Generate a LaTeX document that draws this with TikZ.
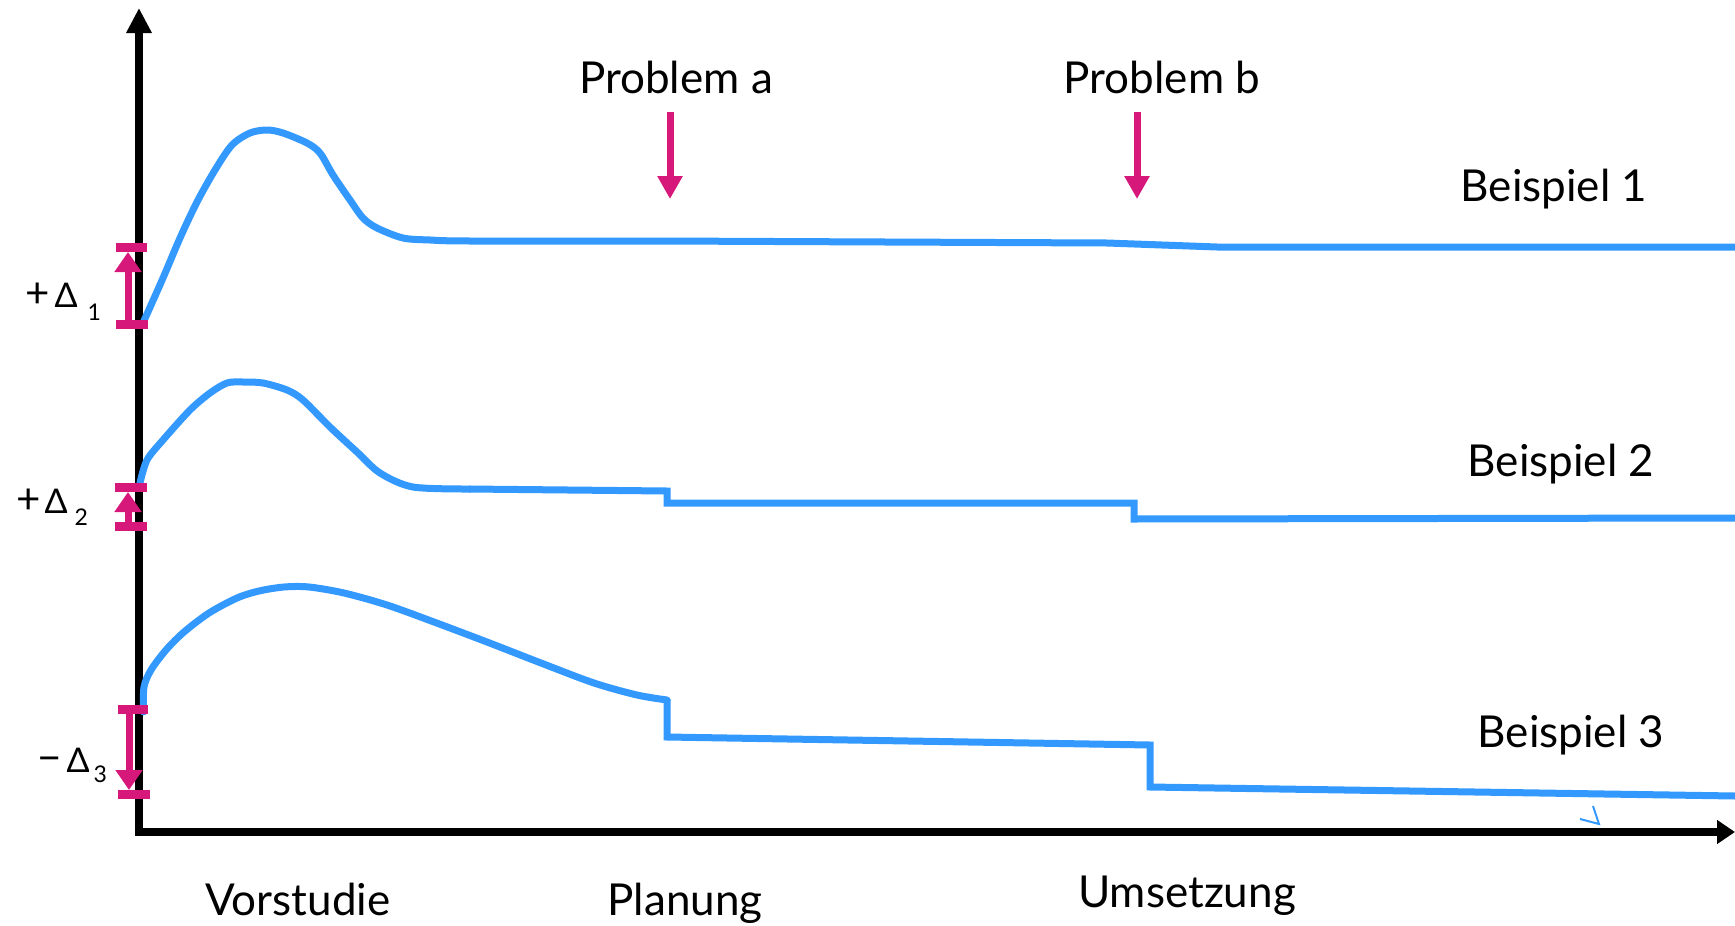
\documentclass[tikz,border=0pt]{standalone}
\usepackage{fontspec}
\setmainfont{Lato}
\usetikzlibrary{arrows.meta}
\definecolor{curveblue}{RGB}{51,153,255}
\definecolor{mag}{RGB}{214,24,122}
\tikzset{
  axisline/.style={line width=8pt, black},
  curve/.style={line width=7pt, curveblue, line join=round, line cap=round},
  curvestep/.style={line width=7pt, curveblue, line join=miter},
  probarrow/.style={line width=7pt, mag, -{Triangle[length=23pt,width=24pt]}},
  deltabar/.style={line width=9pt, mag},
  deltaarrow/.style={line width=7pt, mag, -{Triangle[length=20pt,width=26pt]}},
  biglabel/.style={font=\fontsize{44}{50}\selectfont, anchor=base, inner sep=0pt},
  dlabel/.style={font=\fontsize{34}{36}\selectfont, anchor=base west, inner sep=0pt},
}
\newcommand{\subsc}[2]{\raisebox{#1}{\fontsize{23}{25}\selectfont #2}}
\newcommand{\bigsign}[1]{{\fontsize{42}{44}\selectfont #1}}
\begin{document}
\begin{tikzpicture}[x=1pt,y=-1pt]
\useasboundingbox (0,0) rectangle (1735,926);
% axes
\coordinate (ybot) at (139,836);
\coordinate (ytop) at (139,8);
\coordinate (xleft) at (135,832);
\coordinate (xright) at (1735,832);
\draw[axisline, -{Triangle[length=25pt,width=24pt]}] (ybot) -- (ytop);
\draw[axisline, -{Triangle[length=18pt,width=23pt]}] (xleft) -- (xright);

% curve 1
\draw[curve] plot[smooth, tension=0.5] coordinates {(143,323) (163,278) (180,238) (197,202) (215,170) (232,145) (250,133) (267,130) (283,133) (307,143) (320,153) (333,175) (350,200) (363,218) (377,228) (403,238) (430,240) (470,241) (664,241)}
  -- (1107,243) -- (1217,247) -- (1735,247);

% curve 2
\draw[curve] plot[smooth, tension=0.5] coordinates {(140,483) (147,460) (163,440) (190,410) (210,393) (227,383) (243,382) (263,383) (287,390) (303,400) (330,427) (357,452) (380,473) (413,487) (470,489)};
\draw[curvestep] (469,489) -- (667,491) -- (667,503) -- (1134,503) -- (1134,519) -- (1735,518);

% curve 3
\draw[curve] plot[smooth, tension=0.5] coordinates {(143.5,712) (144,687) (151,670) (166,650) (184,632) (209,613) (237,598) (259,591) (284,587) (309,587) (344,593) (387,605) (434,622) (487,642) (541,663) (594,683) (637,695) (667,700)};
\draw[curvestep] (667,699) -- (667,737) -- (1150,745) -- (1150,787) -- (1735,796);

% small mark
\draw[curveblue, line width=2pt, line join=miter] (1580,819) -- (1599,824) -- (1593,806);

% problem arrows
\node[biglabel] (pa) at (676,93) {Problem a};
\node[biglabel] (pb) at (1162,93) {Problem b};
\coordinate (pa1) at (670,112);
\coordinate (pa2) at (670,199);
\coordinate (pb1) at (1137,112);
\coordinate (pb2) at (1137,199);
\draw[probarrow] (pa1) -- (pa2);
\draw[probarrow] (pb1) -- (pb2);

% labels
\node[biglabel] (b1) at (1554,201) {Beispiel 1};
\node[biglabel] (b2) at (1561,476) {Beispiel 2};
\node[biglabel] (b3) at (1571,747) {Beispiel 3};
\node[biglabel] (v) at (298,915) {Vorstudie};
\node[biglabel] (p) at (685,915) {Planung};
\node[biglabel] (u) at (1187,907) {Umsetzung};

% delta 1
\coordinate (d1t) at (128,252);
\coordinate (d1b) at (128,324);
\draw[deltabar] (116,247) -- (147,247);
\draw[deltabar] (116,324) -- (148,324);
\draw[deltaarrow] (d1b) -- (d1t);
\node[dlabel] (l1) at (25,307) {\bigsign{+}\hspace{5pt}Δ\hspace{10pt}\subsc{-13pt}{1}};

% delta 2
\coordinate (d2t) at (128,492);
\coordinate (d2b) at (128,526);
\draw[deltabar] (115,487) -- (147,487);
\draw[deltabar] (115,526) -- (147,526);
\draw[deltaarrow] (d2b) -- (d2t);
\node[dlabel] (l2) at (16,513) {\bigsign{+}\hspace{4pt}Δ\hspace{7pt}\subsc{-12pt}{2}};

% delta 3
\coordinate (d3t) at (129,709);
\coordinate (d3b) at (129,790);
\draw[deltabar] (118,709) -- (148,709);
\draw[deltabar] (118,794) -- (150,794);
\draw[deltaarrow] (d3t) -- (d3b);
\node[dlabel] (l3) at (37,772) {\bigsign{−}\hspace{5pt}Δ\hspace{4pt}\subsc{-10pt}{3}};
\end{tikzpicture}
\end{document}
